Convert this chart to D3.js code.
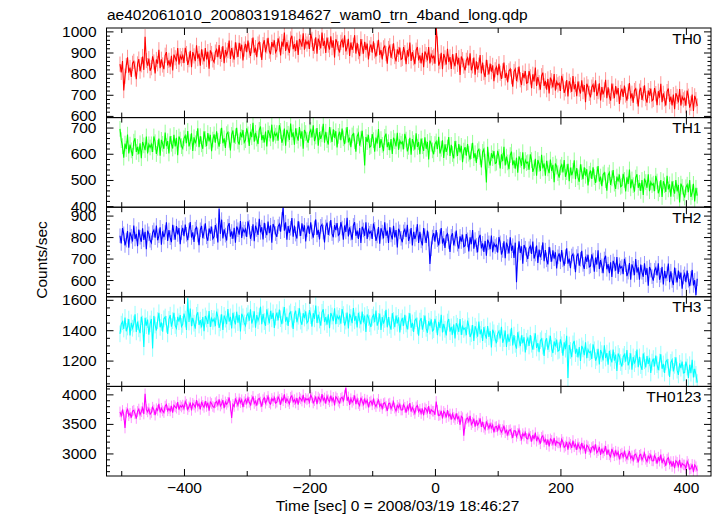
<!DOCTYPE html>
<html><head><meta charset="utf-8">
<script src="https://cdn.jsdelivr.net/npm/d3@7"></script>
<style>body{margin:0;background:#fff} svg{display:block}</style>
</head><body><svg id="c" width="717" height="516"></svg>
<script>
const title = "ae402061010_20080319184627_wam0_trn_4band_long.qdp";
const xLabel = "Time [sec] 0 = 2008/03/19 18:46:27";
const yLabel = "Counts/sec";
const panelNames = ["TH0", "TH1", "TH2", "TH3", "TH0123"];
const colors = ["#ff0000", "#00ff00", "#0000ff", "#00ffff", "#ff00ff"];
// sample times (2 s bins) from -502 s to 418 s
const times = d3.range(-502, 419, 2);

const th0 = [
845,806,860,720,788,838,877,805,829,784,849,858,822,774,846,869,812,842,881,818,975,862,838,871,814,
828,882,855,801,867,847,913,826,868,841,821,887,902,839,863,833,884,815,890,875,858,921,843,885,870,
886,850,922,895,841,866,908,830,902,884,859,934,871,895,838,915,879,858,921,867,904,823,910,895,865,
854,902,914,878,935,870,891,930,849,912,888,909,957,870,921,888,867,948,912,879,946,907,937,862,916,
941,902,956,911,884,932,971,899,923,878,940,949,913,865,937,958,901,931,970,907,892,949,925,958,901,
913,967,940,886,952,928,994,907,949,922,898,964,979,916,940,907,958,889,964,949,928,991,913,955,940,
953,917,989,962,908,930,972,894,966,948,919,994,931,955,898,971,935,914,977,923,957,876,963,948,918,
900,948,960,924,981,905,926,965,884,947,913,934,982,895,946,904,883,964,928,895,951,912,942,867,921,
938,899,953,908,881,921,960,888,912,867,922,931,895,847,919,932,875,905,944,881,858,915,891,924,867,
872,926,899,845,911,881,947,860,902,875,845,911,926,863,887,848,899,830,905,890,863,926,848,890,875,
883,847,1025,940,838,857,899,821,893,875,843,918,855,879,822,892,856,835,898,844,875,794,881,866,836,
815,863,875,839,896,816,837,876,795,858,819,840,888,801,852,805,784,865,829,796,848,809,839,764,818,
832,793,847,802,775,813,852,780,804,759,813,822,786,738,810,822,765,795,834,771,746,803,779,812,755,
758,812,785,731,797,763,829,742,784,757,724,790,805,742,766,724,775,706,781,766,735,798,720,762,747,
754,718,790,763,709,728,770,692,764,746,714,789,726,750,693,763,727,706,769,715,746,665,752,737,707,
688,736,748,712,769,694,715,754,673,736,702,723,771,684,735,693,672,753,717,684,741,702,732,657,711,
729,690,744,699,672,716,755,683,707,662,720,729,693,645,717,733,676,706,745,682,663,720,696,729,672,
678,732,705,651,717,686,752,665,707,680,649,715,730,667,691,650,701,632,707,692,664,727,649,691,676,
684,648,720,693,639,659,701,623,695,677,647];

const th1 = [
695,652,629,585,639,618,673,601,635,613,592,646,659,607,626,598,640,583,645,632,614,666,601,636,624,
636,607,666,644,599,623,658,593,653,638,619,681,629,648,601,667,638,620,672,628,661,594,666,654,629,
620,659,669,640,687,628,646,678,611,663,640,657,697,625,667,636,619,686,656,629,679,647,672,610,654,
674,642,686,649,627,667,699,640,659,622,675,682,653,613,672,689,642,667,699,647,635,682,663,690,643,
652,697,674,630,684,663,718,646,680,658,637,691,704,652,671,643,685,628,690,677,659,711,646,681,669,
679,650,709,687,642,661,696,631,691,676,653,715,663,682,635,697,668,650,702,658,686,619,691,679,654,
642,681,691,662,709,648,666,698,631,683,657,674,714,642,684,652,635,702,672,645,693,661,686,624,668,
684,652,696,659,637,670,702,643,662,625,670,677,648,608,667,678,631,656,688,636,555,664,645,672,625,
630,675,652,608,662,639,694,622,656,634,610,664,677,625,644,614,656,599,661,648,628,680,615,650,638,
646,617,676,654,609,626,661,596,656,641,616,678,626,645,598,658,629,611,663,619,645,578,650,638,613,
598,637,647,618,665,601,619,651,584,636,607,624,664,592,634,599,582,649,619,592,637,605,630,568,612,
625,593,637,600,578,610,642,583,602,565,610,617,588,548,607,617,570,490,627,575,555,602,583,610,563,
566,611,588,544,598,572,627,555,589,567,541,595,608,556,575,543,585,528,590,577,554,606,541,576,564,
568,539,598,576,531,546,581,516,576,561,534,596,544,563,516,573,544,526,578,534,558,491,563,551,526,
509,548,558,529,576,512,530,562,495,547,518,535,575,503,545,510,493,560,530,503,548,516,541,479,523,
536,504,548,511,489,521,553,494,513,476,521,528,499,459,518,528,481,506,538,486,466,513,494,521,474,
478,523,500,456,510,485,540,468,502,480,455,509,522,470,489,458,500,443,505,492,470,522,457,492,480,
486,457,516,494,449,465,500,435,495,480,454,516,464,483,436,495,466,448,500,456,481,414,486,474,449,
433,472,482,453,500,435,453,485,418,470,440];

const th2 = [
806,770,842,815,761,786,828,750,822,804,779,854,791,815,758,835,799,778,841,787,824,743,830,815,785,
773,821,833,797,854,785,806,845,764,827,800,821,869,782,833,797,776,857,821,788,851,812,842,767,821,
843,804,858,813,786,831,870,798,822,777,837,846,810,762,834,852,795,825,864,801,783,840,816,849,792,
802,856,829,775,932,815,881,794,836,809,784,850,865,802,826,792,843,774,849,834,811,874,796,838,823,
837,801,873,846,792,817,859,781,853,835,810,885,822,846,789,866,830,809,872,818,855,774,861,846,816,
801,849,861,825,882,938,830,869,788,851,820,841,889,802,853,814,793,874,838,805,864,825,855,780,834,
854,815,869,824,797,843,882,810,834,789,850,859,823,775,847,867,810,840,879,816,799,856,832,865,808,
815,869,842,788,854,824,890,803,845,818,788,854,869,806,830,791,842,773,848,833,806,869,791,833,818,
827,791,863,836,782,805,847,769,841,823,794,869,806,830,773,846,810,789,852,798,833,752,839,824,794,
776,824,836,800,857,782,803,842,761,824,791,812,860,773,824,782,761,842,806,773,830,791,675,746,800,
818,779,833,788,761,803,842,770,794,749,806,815,779,731,803,818,761,791,830,767,746,803,779,812,755,
760,814,787,733,799,767,833,746,788,761,729,795,810,747,771,731,782,713,788,773,744,807,729,771,756,
764,728,800,773,719,738,780,702,774,756,724,799,736,760,703,774,590,717,780,726,757,676,763,748,718,
698,746,758,722,779,700,721,760,679,742,706,727,775,688,739,694,673,754,718,685,738,699,729,654,708,
724,685,739,694,667,709,748,676,700,655,712,721,685,637,709,724,667,697,736,673,652,709,685,718,661,
666,720,693,639,705,672,738,651,693,666,632,698,713,650,674,632,683,614,689,674,644,707,629,671,656,
663,627,699,672,618,637,679,601,673,655,623,698,635,659,602,672,636,615,678,624,655,574,661,646,616,
597,645,657,621,678,601,622,661,580,643,608,629,677,590,641,598,577,658,622,589,644,605,635,560,614,
629,590,644,599,572,608,647,575,599,530,606];

const th3 = [
1376,1440,1456,1408,1484,1393,1421,1473,1365,1449,1413,1441,1505,1389,1457,1409,1381,1489,1441,1290,1482,1430,1470,1370,1442,
1474,1280,1494,1434,1398,1463,1515,1419,1451,1391,1475,1487,1439,1375,1471,1499,1423,1463,1515,1431,1412,1488,1456,1500,1424,
1438,1510,1474,1402,1610,1454,1542,1426,1482,1446,1410,1498,1518,1434,1466,1418,1486,1394,1494,1474,1442,1526,1422,1478,1458,
1475,1427,1523,1487,1415,1449,1505,1401,1497,1473,1440,1540,1456,1488,1412,1514,1466,1438,1522,1450,1500,1392,1508,1488,1448,
1430,1494,1510,1462,1538,1444,1472,1524,1416,1500,1463,1491,1555,1439,1507,1457,1429,1537,1489,1445,1527,1475,1515,1415,1487,
1516,1464,1536,1476,1440,1500,1552,1456,1488,1428,1508,1520,1472,1408,1504,1528,1452,1492,1544,1460,1436,1512,1480,1524,1448,
1460,1532,1496,1424,1512,1475,1563,1447,1503,1467,1430,1518,1538,1454,1486,1437,1505,1413,1513,1493,1460,1544,1440,1496,1476,
1491,1443,1539,1503,1431,1460,1516,1412,1508,1484,1446,1546,1462,1494,1418,1515,1467,1439,1523,1451,1496,1388,1504,1484,1444,
1421,1485,1501,1453,1529,1430,1458,1510,1402,1486,1443,1471,1535,1419,1487,1432,1404,1512,1464,1420,1497,1445,1485,1385,1457,
1481,1429,1501,1441,1405,1460,1512,1416,1448,1388,1464,1476,1428,1364,1460,1480,1404,1444,1496,1412,1383,1459,1427,1471,1395,
1403,1475,1439,1367,1455,1414,1502,1386,1442,1406,1366,1454,1474,1390,1422,1370,1438,1346,1446,1426,1389,1473,1369,1425,1405,
1415,1367,1463,1427,1355,1378,1434,1330,1426,1402,1357,1457,1373,1405,1329,1420,1372,1344,1428,1356,1395,1287,1403,1383,1343,
1314,1378,1394,1346,1422,1317,1345,1397,1289,1373,1324,1352,1416,1300,1368,1307,1279,1387,1339,1295,1366,1314,1354,1254,1326,
1348,1296,1368,1308,1272,1327,1379,1283,1315,1255,1331,1343,1295,1231,1327,1347,1271,1311,1363,1279,1250,1326,1294,1338,1262,
1268,1340,1304,1232,1320,1275,1363,1085,1303,1267,1222,1310,1330,1246,1278,1221,1289,1197,1297,1277,1236,1320,1216,1272,1252,
1259,1211,1307,1271,1199,1222,1278,1174,1270,1246,1201,1301,1217,1249,1173,1264,1216,1188,1272,1200,1239,1131,1247,1227,1187,
1161,1225,1241,1193,1269,1168,1196,1248,1140,1224,1180,1208,1272,1156,1224,1167,1139,1247,1199,1155,1230,1178,1218,1118,1190,
1213,1161,1233,1173,1137,1190,1242,1146,1178,1118,1192,1204,1156,1092,1188,1205,1129,1169,1221,1137,1106,1182,1150,1194,1118,
1121,1193,1157,1085,1173,1117,1205,1089,1145,1109,1055];

const th0123 = [
3703,3638,3728,3653,3430,3694,3759,3639,3679,3604,3716,3731,3671,3591,3711,3752,3657,3707,3772,3667,4010,3743,3703,3758,3663,
3693,3783,3738,3648,3758,3730,3840,3695,3765,3720,3692,3802,3827,3722,3762,3719,3804,3689,3814,3789,3766,3871,3741,3811,3786,
3818,3758,3878,3833,3743,3789,3859,3729,3849,3819,3780,3905,3800,3840,3745,3875,3815,3780,3885,3795,3861,3726,3871,3846,3796,
3779,3859,3879,3819,3914,3803,3838,3903,3768,3873,3832,3867,3947,3802,3600,3831,3796,3931,3871,3816,3925,3860,3910,3785,3875,
3916,3851,3941,3866,3821,3901,3966,3846,3886,3811,3916,3931,3871,3791,3911,3945,3850,3900,3965,3860,3835,3930,3890,3945,3850,
3869,3959,3914,3824,3934,3892,4002,3857,3927,3882,3841,3951,3976,3871,3911,3854,3939,3824,3949,3924,3887,3992,3862,3932,3907,
3929,3869,3989,3944,3854,3894,3964,3834,3954,3924,3879,4004,3899,3939,3844,3969,3909,3874,3979,3889,3949,3814,3959,3934,3884,
3853,3933,3953,3893,3988,4110,3892,3957,3822,3927,3866,3901,3981,3836,3921,3844,3809,3944,3884,3829,3918,3853,3903,3778,3868,
3888,3823,3913,3838,3793,3851,3916,3796,3836,3761,3844,3859,3799,3719,3839,3852,3757,3807,3872,3767,3720,3815,3775,3830,3735,
3735,3825,3780,3690,3800,3744,3854,3709,3779,3734,3678,3788,3813,3708,3748,3676,3761,3646,3771,3746,3695,3800,3670,3740,3715,
3715,3655,3880,3730,3640,3651,3721,3591,3711,3681,3608,3733,3628,3668,3573,3669,3609,3574,3679,3589,3620,3485,3630,3605,3300,
3502,3582,3602,3542,3637,3488,3523,3588,3453,3558,3480,3515,3595,3450,3535,3442,3407,3542,3482,3427,3498,3433,3483,3358,3448,
3455,3390,3480,3405,3360,3406,3471,3351,3391,3316,3388,3403,3343,3263,3383,3384,3289,3339,3404,3299,3240,3335,3295,3350,3255,
3245,3335,3290,3200,3310,3242,3352,3207,3277,3232,3164,3274,3299,3194,3234,3151,3236,3121,3246,3221,3158,3263,3133,3203,3178,
3178,3118,3238,3193,3103,3126,3196,3066,3186,3156,3094,3219,3114,3154,3059,3167,3107,3072,3177,3087,3130,2995,3140,3115,3065,
3020,3100,3120,3060,3155,3012,3047,3112,2977,3082,3009,3044,3124,2979,3064,2976,2941,3076,3016,2961,3038,2973,3023,2898,2988,
3005,2940,3030,2955,2910,2974,3039,2919,2959,2884,2973,2988,2928,2848,2968,2986,2891,2941,3006,2901,2860,2955,2915,2970,2875,
2873,2963,2918,2828,2938,2870,2980,2835,2905,2860,2792,2902,2927,2822,2862,2779,2864,2749,2874,2849,2786,2891,2761,2831,2806,
2805,2745,2865,2820,2730,2745,2815,2685,2805,2775,2708];

const series = [th0, th1, th2, th3, th0123];
const errHalf = [36, 30, 34, 55, 90];
const yRanges = [[592, 1016], [396, 738], [522, 939], [1030, 1620], [2618, 4135]];
const yTicks = [[600, 700, 800, 900, 1000], [400, 500, 600, 700], [600, 700, 800, 900], [1200, 1400, 1600], [3000, 3500, 4000]];
const yMinorSteps = [20, 20, 20, 50, 100];
const xRange = [-523.5, 440];
const xTicks = [-400, -200, 0, 200, 400];
const xMinorTicks = [-500, -300, -100, 100, 300];

const FONT = "'Liberation Sans', Arial, Helvetica, sans-serif";
const FS = "15.5px";
const L = 106.5, R = 711, T = 28, B = 476;
const ph = (B - T) / series.length;

const svg = d3.select("#c");
const x = d3.scaleLinear().domain(xRange).range([L, R]);
const fmt = d3.format("d");

function styleAxis(g) {
  g.select(".domain").remove();
  g.selectAll("line").attr("stroke", "#000").attr("stroke-width", 1);
  g.selectAll("text").attr("font-family", FONT).attr("font-size", FS).attr("fill", "#000");
  g.attr("font-family", null).attr("font-size", null);
}

series.forEach((vals, i) => {
  const top = T + i * ph, bot = top + ph;
  const y = d3.scaleLinear().domain(yRanges[i]).range([bot, top]);
  const g = svg.append("g");
  const cid = "clip" + i;
  svg.append("clipPath").attr("id", cid).append("rect")
    .attr("x", L).attr("y", top).attr("width", R - L).attr("height", ph);
  const dg = g.append("g").attr("clip-path", `url(#${cid})`);
  const e = errHalf[i];
  dg.selectAll("line.err").data(vals).join("line").attr("class", "err")
    .attr("x1", (d, j) => x(times[j])).attr("x2", (d, j) => x(times[j]))
    .attr("y1", d => y(d - e)).attr("y2", d => y(d + e))
    .attr("stroke", colors[i]).attr("stroke-opacity", 0.42).attr("stroke-width", 1);
  const line = d3.line().x((d, j) => x(times[j])).y(d => y(d));
  dg.append("path").datum(vals).attr("d", line)
    .attr("fill", "none").attr("stroke", colors[i]).attr("stroke-width", 1.1);

  const lo = yRanges[i][0], hi = yRanges[i][1], st = yMinorSteps[i];
  const minor = d3.range(Math.ceil(lo / st) * st, hi, st).filter(v => !yTicks[i].includes(v));

  g.append("g").attr("transform", `translate(${L},0)`)
    .call(d3.axisLeft(y).tickValues(yTicks[i]).tickSize(-7).tickPadding(10).tickFormat(fmt)).call(styleAxis);
  g.append("g").attr("transform", `translate(${L},0)`)
    .call(d3.axisLeft(y).tickValues(minor).tickSize(-3.5).tickFormat("")).call(styleAxis);
  g.append("g").attr("transform", `translate(${R},0)`)
    .call(d3.axisRight(y).tickValues(yTicks[i]).tickSize(-7).tickFormat("")).call(styleAxis);
  g.append("g").attr("transform", `translate(${R},0)`)
    .call(d3.axisRight(y).tickValues(minor).tickSize(-3.5).tickFormat("")).call(styleAxis);
  g.append("g").attr("transform", `translate(0,${top})`)
    .call(d3.axisTop(x).tickValues(xTicks).tickSize(-7).tickFormat("")).call(styleAxis);
  g.append("g").attr("transform", `translate(0,${top})`)
    .call(d3.axisTop(x).tickValues(xMinorTicks).tickSize(-5).tickFormat("")).call(styleAxis);
  const last = i === series.length - 1;
  const bAx = d3.axisBottom(x).tickValues(xTicks).tickSize(-7).tickPadding(5.5).tickFormat(last ? fmt : "");
  g.append("g").attr("transform", `translate(0,${bot})`).call(bAx).call(styleAxis);
  g.append("g").attr("transform", `translate(0,${bot})`)
    .call(d3.axisBottom(x).tickValues(xMinorTicks).tickSize(-5).tickFormat("")).call(styleAxis);

  g.append("rect").attr("x", L).attr("y", top).attr("width", R - L).attr("height", ph)
    .attr("fill", "none").attr("stroke", "#000").attr("stroke-width", 1);

  g.append("text").attr("x", 701.5).attr("y", top + 15.5).attr("text-anchor", "end")
    .attr("font-family", FONT).attr("font-size", FS).text(panelNames[i]);
});

svg.append("text").attr("x", 107).attr("y", 19.5)
  .attr("font-family", FONT).attr("font-size", FS).text(title);
svg.append("text").attr("x", 397.5).attr("y", 511)
  .attr("text-anchor", "middle").attr("font-family", FONT).attr("font-size", FS).text(xLabel);
svg.append("text").attr("transform", "translate(46.5,260) rotate(-90)")
  .attr("text-anchor", "middle").attr("font-family", FONT).attr("font-size", FS).text(yLabel);
</script>
</body></html>
